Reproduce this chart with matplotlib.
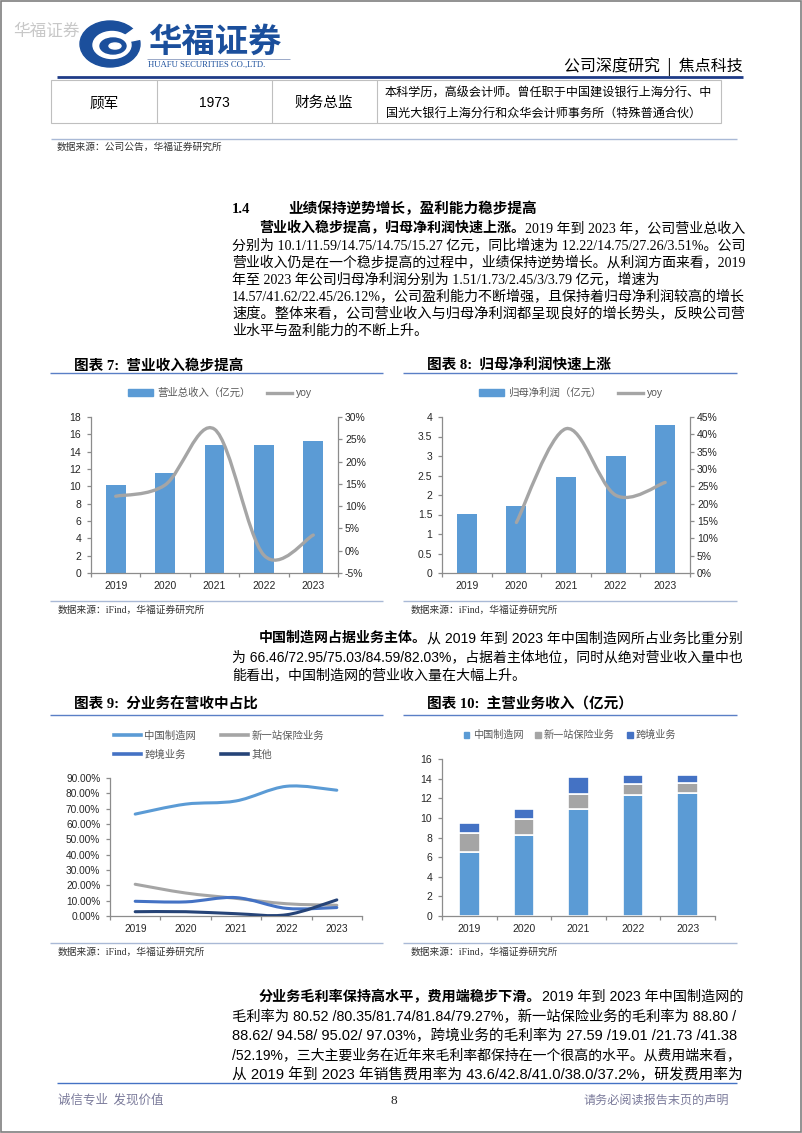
import matplotlib
matplotlib.use('Agg')
import matplotlib.pyplot as plt
from matplotlib.patches import Rectangle, Ellipse, PathPatch, Patch, Polygon
from matplotlib.path import Path
from matplotlib.lines import Line2D
from matplotlib.ticker import FuncFormatter
import numpy as np

# ---------------- data ----------------
years = ['2019', '2020', '2021', '2022', '2023']
revenue = [10.1, 11.59, 14.75, 14.75, 15.27]            # 营业总收入（亿元）
revenue_yoy = [12.22, 14.75, 27.26, -1.0, 3.51]          # yoy %
profit = [1.51, 1.73, 2.45, 3.00, 3.79]                  # 归母净利润（亿元）
profit_yoy_years = ['2020', '2021', '2022', '2023']
profit_yoy = [14.57, 41.62, 22.45, 26.12]                # yoy %
share_mfg = [66.46, 72.95, 75.03, 84.59, 82.03]          # 中国制造网 %
share_ins = [20.7, 15.0, 11.5, 8.0, 7.0]                 # 新一站保险业务 %
share_xb = [9.6, 9.2, 12.0, 5.0, 5.5]                    # 跨境业务 %
share_other = [2.8, 2.8, 1.5, 0.8, 10.5]                 # 其他 %
inc_mfg = [6.48, 8.26, 10.92, 12.35, 12.49]              # 中国制造网（亿元）
inc_ins = [2.00, 1.60, 1.54, 1.13, 1.06]                 # 新一站保险业务（亿元）
inc_xb = [0.95, 1.03, 1.70, 0.85, 0.78]                  # 跨境业务（亿元）

rev_ticks = [0, 2, 4, 6, 8, 10, 12, 14, 16, 18]
rev_yoy_ticks = [-5, 0, 5, 10, 15, 20, 25, 30]
profit_ticks = [0, 0.5, 1, 1.5, 2, 2.5, 3, 3.5, 4]
profit_yoy_ticks = [0, 5, 10, 15, 20, 25, 30, 35, 40, 45]
share_ticks = [0, 10, 20, 30, 40, 50, 60, 70, 80, 90]
inc_ticks = [0, 2, 4, 6, 8, 10, 12, 14, 16]

# ---------------- setup ----------------
CJK = 'Noto Sans CJK SC'
SERIF = ['Liberation Serif', CJK]
SANS = ['Liberation Sans', CJK]
plt.rcParams['font.family'] = SANS
plt.rcParams['axes.unicode_minus'] = False

W, H = 802, 1133
fig = plt.figure(figsize=(W / 100, H / 100), dpi=100)
fig.patch.set_facecolor('white')
R = fig.canvas.get_renderer()

page = fig.add_axes([0, 0, 1, 1])
page.set_xlim(0, W)
page.set_ylim(H, 0)
page.axis('off')

BLUE = '#5B9BD5'
GRAY = '#A5A5A5'
MID = '#4472C4'
NAVY = '#264478'
AXC = '#8C8C8C'
TICKC = '#262626'
LEGC = '#595959'


def em(sz):
    return sz * 100 / 72


def hline(y, x0, x1, color, lw):
    page.add_line(Line2D([x0, x1], [y, y], color=color, lw=lw, solid_capstyle='butt'))


def vline(x, y0, y1, color, lw):
    page.add_line(Line2D([x, x], [y0, y1], color=color, lw=lw, solid_capstyle='butt'))


def ptext(x, y, s, size, fam=None, color='black', weight='normal', ha='left'):
    return page.text(x, y + 0.36 * em(size), s, fontsize=size, family=fam or SANS,
                     color=color, fontweight=weight, ha=ha, va='baseline')


def draw_line(x0, yc, segs, fam, size, x1=None):
    ts = [page.text(0, 0, s, fontsize=size, family=fam, fontweight=w, color='black',
                    ha='left', va='baseline') for s, w in segs]

    def lay(sz):
        x = x0
        for t in ts:
            t.set_fontsize(sz)
            t.set_position((x, yc + 0.36 * em(sz)))
            x += t.get_window_extent(renderer=R).width
        return x - x0

    tot = lay(size)
    if x1 is not None:
        sc = min(max((x1 - x0) / tot, 0.93), 1.07)
        lay(size * sc)


# ---------------- page frame & header ----------------
page.add_patch(Rectangle((0.8, 0.8), W - 1.6, H - 1.6, fill=False, edgecolor='#7F7F7F', lw=1.2))
ptext(13, 30, '华福证券', 12, fam=[CJK], color='#C8C8C8')

LOGO = '#1B4F9C'
page.add_patch(Ellipse((110, 44), 60, 46, color=LOGO, zorder=3))
page.add_patch(Ellipse((112, 45), 38, 27, color='white', zorder=4))
page.add_patch(Polygon([(112, 45), (146, 20), (146, 38)], closed=True, color='white', zorder=4))
page.add_patch(Ellipse((113, 46), 26, 16, color=LOGO, zorder=5))
page.add_patch(Ellipse((115, 46), 12, 6, color='white', zorder=6))

ptext(148, 40, '华福证券', 24, fam=[CJK], color=LOGO, weight='bold')
hline(59, 147, 290, '#8A9BBF', 0.6)
ptext(148, 64, 'HUAFU SECURITIES CO.,LTD.', 6.2, fam=SERIF, color=LOGO)
ptext(743, 65, '公司深度研究  |  焦点科技', 11.5, fam=[CJK], ha='right')
hline(77, 57, 743, '#1F3C88', 2.0)

# table row
TB = '#BFBFBF'
page.add_patch(Rectangle((51, 80), 670, 43, fill=False, edgecolor=TB, lw=0.8))
for xv in [157, 272, 377]:
    vline(xv, 80, 123, TB, 0.8)
ptext(104, 102, '顾军', 10.5, fam=[CJK], ha='center')
ptext(214, 102, '1973', 10, fam=SANS, ha='center')
ptext(324, 102, '财务总监', 10.5, fam=[CJK], ha='center')
ptext(548, 92, '本科学历，高级会计师。曾任职于中国建设银行上海分行、中', 8.7, fam=[CJK], ha='center')
ptext(544, 112, '国光大银行上海分行和众华会计师事务所（特殊普通合伙）', 8.7, fam=[CJK], ha='center')
hline(139, 51, 737, '#A9B9D6', 1.0)
ptext(57, 146, '数据来源：公司公告，华福证券研究所', 7, fam=[CJK], color='#333333')

# ---------------- paragraph 1 ----------------
BODY = 10.1
RM = 744
ptext(232, 208, '1.4', 10.5, fam=SERIF, weight='bold')
ptext(288, 208, '业绩保持逆势增长，盈利能力稳步提高', 10.5, fam=SERIF, weight='bold')
p1_y = [227, 244.2, 261.3, 278.5, 295.7, 312.8, 330]
draw_line(259, p1_y[0], [('营业收入稳步提高，归母净利润快速上涨。', 'bold'),
                         ('2019 年到 2023 年，公司营业总收入', 'normal')], SERIF, BODY, RM)
draw_line(232, p1_y[1], [('分别为 10.1/11.59/14.75/14.75/15.27 亿元，同比增速为 12.22/14.75/27.26/3.51%。公司', 'normal')], SERIF, BODY, RM)
draw_line(232, p1_y[2], [('营业收入仍是在一个稳步提高的过程中，业绩保持逆势增长。从利润方面来看，2019', 'normal')], SERIF, BODY, RM)
draw_line(232, p1_y[3], [('年至 2023 年公司归母净利润分别为 1.51/1.73/2.45/3/3.79 亿元，增速为', 'normal')], SERIF, BODY)
draw_line(232, p1_y[4], [('14.57/41.62/22.45/26.12%，公司盈利能力不断增强，且保持着归母净利润较高的增长', 'normal')], SERIF, BODY, RM)
draw_line(232, p1_y[5], [('速度。整体来看，公司营业收入与归母净利润都呈现良好的增长势头，反映公司营', 'normal')], SERIF, BODY, RM)
draw_line(232, p1_y[6], [('业水平与盈利能力的不断上升。', 'normal')], SERIF, BODY)

# ---------------- paragraph 2 ----------------
p2_y = [637, 656, 675]
draw_line(259, p2_y[0], [('中国制造网占据业务主体。', 'bold'),
                         ('从 2019 年到 2023 年中国制造网所占业务比重分别', 'normal')], SANS, BODY, 741)
draw_line(232, p2_y[1], [('为 66.46/72.95/75.03/84.59/82.03%，占据着主体地位，同时从绝对营业收入量中也', 'normal')], SANS, BODY, 741)
draw_line(232, p2_y[2], [('能看出，中国制造网的营业收入量在大幅上升。', 'normal')], SANS, BODY)

# ---------------- paragraph 3 ----------------
p3_y = [996, 1016, 1035, 1054, 1074]
draw_line(259, p3_y[0], [('分业务毛利率保持高水平，费用端稳步下滑。', 'bold'),
                         ('2019 年到 2023 年中国制造网的', 'normal')], SANS, BODY, 741)
draw_line(232, p3_y[1], [('毛利率为 80.52 /80.35/81.74/81.84/79.27%，新一站保险业务的毛利率为 88.80 /', 'normal')], SANS, BODY, 737)
draw_line(232, p3_y[2], [('88.62/ 94.58/ 95.02/ 97.03%，跨境业务的毛利率为 27.59 /19.01 /21.73 /41.38', 'normal')], SANS, BODY, 734)
draw_line(232, p3_y[3], [('/52.19%，三大主要业务在近年来毛利率都保持在一个很高的水平。从费用端来看，', 'normal')], SANS, BODY, 741)
draw_line(232, p3_y[4], [('从 2019 年到 2023 年销售费用率为 43.6/42.8/41.0/38.0/37.2%，研发费用率为', 'normal')], SANS, BODY, 741)

# ---------------- footer ----------------
hline(1083, 57, 737, MID, 1.0)
ptext(58, 1099, '诚信专业  发现价值', 9, fam=[CJK], color='#7B7B9B')
ptext(394, 1099, '8', 9.5, fam=SERIF, color='#222222', ha='center')
ptext(729, 1099, '请务必阅读报告末页的声明', 8.7, fam=[CJK], color='#7B7B9B', ha='right')

# ---------------- chart frames (titles, rules, sources) ----------------
TITLE_LINE = '#5A7FC6'
SRC_LINE = '#A9B9D6'
for (tx, ty, title, lx0, lx1, ly, sy) in [
        (74, 364, '图表 7:  营业收入稳步提高', 50, 383, 373, 601),
        (427, 364, '图表 8:  归母净利润快速上涨', 403, 737, 373, 601),
        (74, 703, '图表 9:  分业务在营收中占比', 50, 383, 715, 943),
        (427, 703, '图表 10:  主营业务收入（亿元）', 403, 737, 715, 943)]:
    ptext(tx, ty, title, 10.5, fam=SERIF, weight='bold')
    hline(ly, lx0, lx1, TITLE_LINE, 1.0)
    hline(sy, lx0, lx1, SRC_LINE, 1.0)
    ptext(lx0 + 8, sy + 8, '数据来源：iFind，华福证券研究所', 7, fam=SERIF, color='#333333')


# ---------------- helpers for charts ----------------
def px_axes(x0, y0, x1, y1):
    a = fig.add_axes([x0 / W, 1 - y1 / H, (x1 - x0) / W, (y1 - y0) / H])
    a.set_facecolor('none')
    return a


def style_cat_axis(ax, n, lsize=7.5):
    ax.set_xlim(-0.5, n - 0.5)
    ax.set_xticks(range(n))
    ax.set_xticklabels(years)
    ax.set_xticks(np.arange(-0.5, n, 1.0), minor=True)
    ax.tick_params(axis='x', which='major', length=0, pad=5.5, labelsize=lsize, labelcolor=TICKC)
    ax.tick_params(axis='x', which='minor', length=3, direction='out', color=AXC, width=0.9)
    for s in ['top', 'right']:
        ax.spines[s].set_visible(False)
    for s in ['left', 'bottom']:
        ax.spines[s].set_color(AXC)
        ax.spines[s].set_linewidth(0.9)
    ax.tick_params(axis='y', length=3, direction='out', color=AXC, width=0.9,
                   labelsize=lsize, labelcolor=TICKC, pad=4)


def style_right(axb, lsize=7.5):
    for s in ['top', 'left', 'bottom']:
        axb.spines[s].set_visible(False)
    axb.spines['right'].set_color(AXC)
    axb.spines['right'].set_linewidth(0.9)
    axb.tick_params(axis='y', length=3, direction='out', color=AXC, width=0.9,
                    labelsize=lsize, labelcolor=TICKC, pad=2)


def smooth_path(xs, ys):
    pts = np.column_stack([xs, ys]).astype(float)
    n = len(pts)
    verts = [pts[0]]
    codes = [Path.MOVETO]
    for i in range(n - 1):
        p0 = pts[i - 1] if i > 0 else pts[i]
        p1 = pts[i]
        p2 = pts[i + 1]
        p3 = pts[i + 2] if i + 2 < n else pts[i + 1]
        verts += [p1 + (p2 - p0) / 6.0, p2 - (p3 - p1) / 6.0, p2]
        codes += [Path.CURVE4] * 3
    return Path(verts, codes)


def smooth_line(ax, xs, ys, color, lw):
    ax.add_patch(PathPatch(smooth_path(xs, ys), fill=False, edgecolor=color, lw=lw,
                           capstyle='round', joinstyle='round', zorder=3))


pct0 = FuncFormatter(lambda v, p: f'{v:.0f}%')
pct2 = FuncFormatter(lambda v, p: f'{v:.2f}%')
xpos = np.arange(len(years))

# ---------------- chart 7 ----------------
ax7 = px_axes(91, 417, 338, 573)
ax7.bar(xpos, revenue, width=0.4, color=BLUE, zorder=2)
ax7.set_ylim(0, 18)
ax7.set_yticks(rev_ticks)
style_cat_axis(ax7, len(years))
ax7b = ax7.twinx()
ax7b.set_ylim(-5, 30)
ax7b.set_yticks(rev_yoy_ticks)
ax7b.yaxis.set_major_formatter(pct0)
style_right(ax7b)
smooth_line(ax7b, xpos, revenue_yoy, GRAY, 2.4)
ax7.legend([Patch(color=BLUE), Line2D([], [], color=GRAY, lw=2.4)],
           ['营业总收入（亿元）', 'yoy'], loc='center',
           bbox_to_anchor=(220 / W, 1 - 393 / H), bbox_transform=fig.transFigure,
           ncol=2, frameon=False, fontsize=7.5, handlelength=2.4, handleheight=0.6,
           handletextpad=0.4, columnspacing=1.6, labelcolor=LEGC)

# ---------------- chart 8 ----------------
ax8 = px_axes(442, 417, 690, 573)
ax8.bar(xpos, profit, width=0.4, color=BLUE, zorder=2)
ax8.set_ylim(0, 4)
ax8.set_yticks(profit_ticks)
ax8.set_yticklabels([f'{v:g}' for v in profit_ticks])
style_cat_axis(ax8, len(years))
ax8b = ax8.twinx()
ax8b.set_ylim(0, 45)
ax8b.set_yticks(profit_yoy_ticks)
ax8b.yaxis.set_major_formatter(pct0)
style_right(ax8b)
yoy_x = [years.index(y) for y in profit_yoy_years]
smooth_line(ax8b, yoy_x, profit_yoy, GRAY, 2.4)
ax8.legend([Patch(color=BLUE), Line2D([], [], color=GRAY, lw=2.4)],
           ['归母净利润（亿元）', 'yoy'], loc='center',
           bbox_to_anchor=(571 / W, 1 - 393 / H), bbox_transform=fig.transFigure,
           ncol=2, frameon=False, fontsize=7.5, handlelength=2.4, handleheight=0.6,
           handletextpad=0.4, columnspacing=1.6, labelcolor=LEGC)

# ---------------- chart 9 ----------------
ax9 = px_axes(110, 778, 362, 916)
ax9.set_ylim(0, 90)
ax9.set_yticks(share_ticks)
ax9.yaxis.set_major_formatter(pct2)
style_cat_axis(ax9, len(years), lsize=7.3)
series9 = [(share_mfg, BLUE), (share_ins, GRAY), (share_xb, MID), (share_other, NAVY)]
for vals, c in series9:
    smooth_line(ax9, xpos, vals, c, 2.2)
ax9.legend([Line2D([], [], color=BLUE, lw=2.6), Line2D([], [], color=MID, lw=2.6),
            Line2D([], [], color=GRAY, lw=2.6), Line2D([], [], color=NAVY, lw=2.6)],
           ['中国制造网', '跨境业务', '新一站保险业务', '其他'], loc='center',
           bbox_to_anchor=(219 / W, 1 - 745 / H), bbox_transform=fig.transFigure,
           ncol=2, frameon=False, fontsize=7.5, handlelength=2.6, handletextpad=0.3,
           columnspacing=2.4, labelspacing=0.85, labelcolor=LEGC)

# ---------------- chart 10 ----------------
ax10 = px_axes(442, 759, 715, 916)
b1 = np.array(inc_mfg)
b2 = b1 + np.array(inc_ins)
ax10.bar(xpos, inc_mfg, width=0.38, color=BLUE, edgecolor='white', lw=1.2, zorder=2)
ax10.bar(xpos, inc_ins, width=0.38, bottom=b1, color=GRAY, edgecolor='white', lw=1.2, zorder=2)
ax10.bar(xpos, inc_xb, width=0.38, bottom=b2, color=MID, edgecolor='white', lw=1.2, zorder=2)
ax10.set_ylim(0, 16)
ax10.set_yticks(inc_ticks)
style_cat_axis(ax10, len(years))
ax10.legend([Patch(color=BLUE), Patch(color=GRAY), Patch(color=MID)],
            ['中国制造网', '新一站保险业务', '跨境业务'], loc='center',
            bbox_to_anchor=(570 / W, 1 - 735 / H), bbox_transform=fig.transFigure,
            ncol=3, frameon=False, fontsize=7.3, handlelength=0.55, handleheight=0.55,
            handletextpad=0.3, columnspacing=1.2, labelcolor=LEGC)

fig.savefig('out.png', dpi=100, facecolor='white')
